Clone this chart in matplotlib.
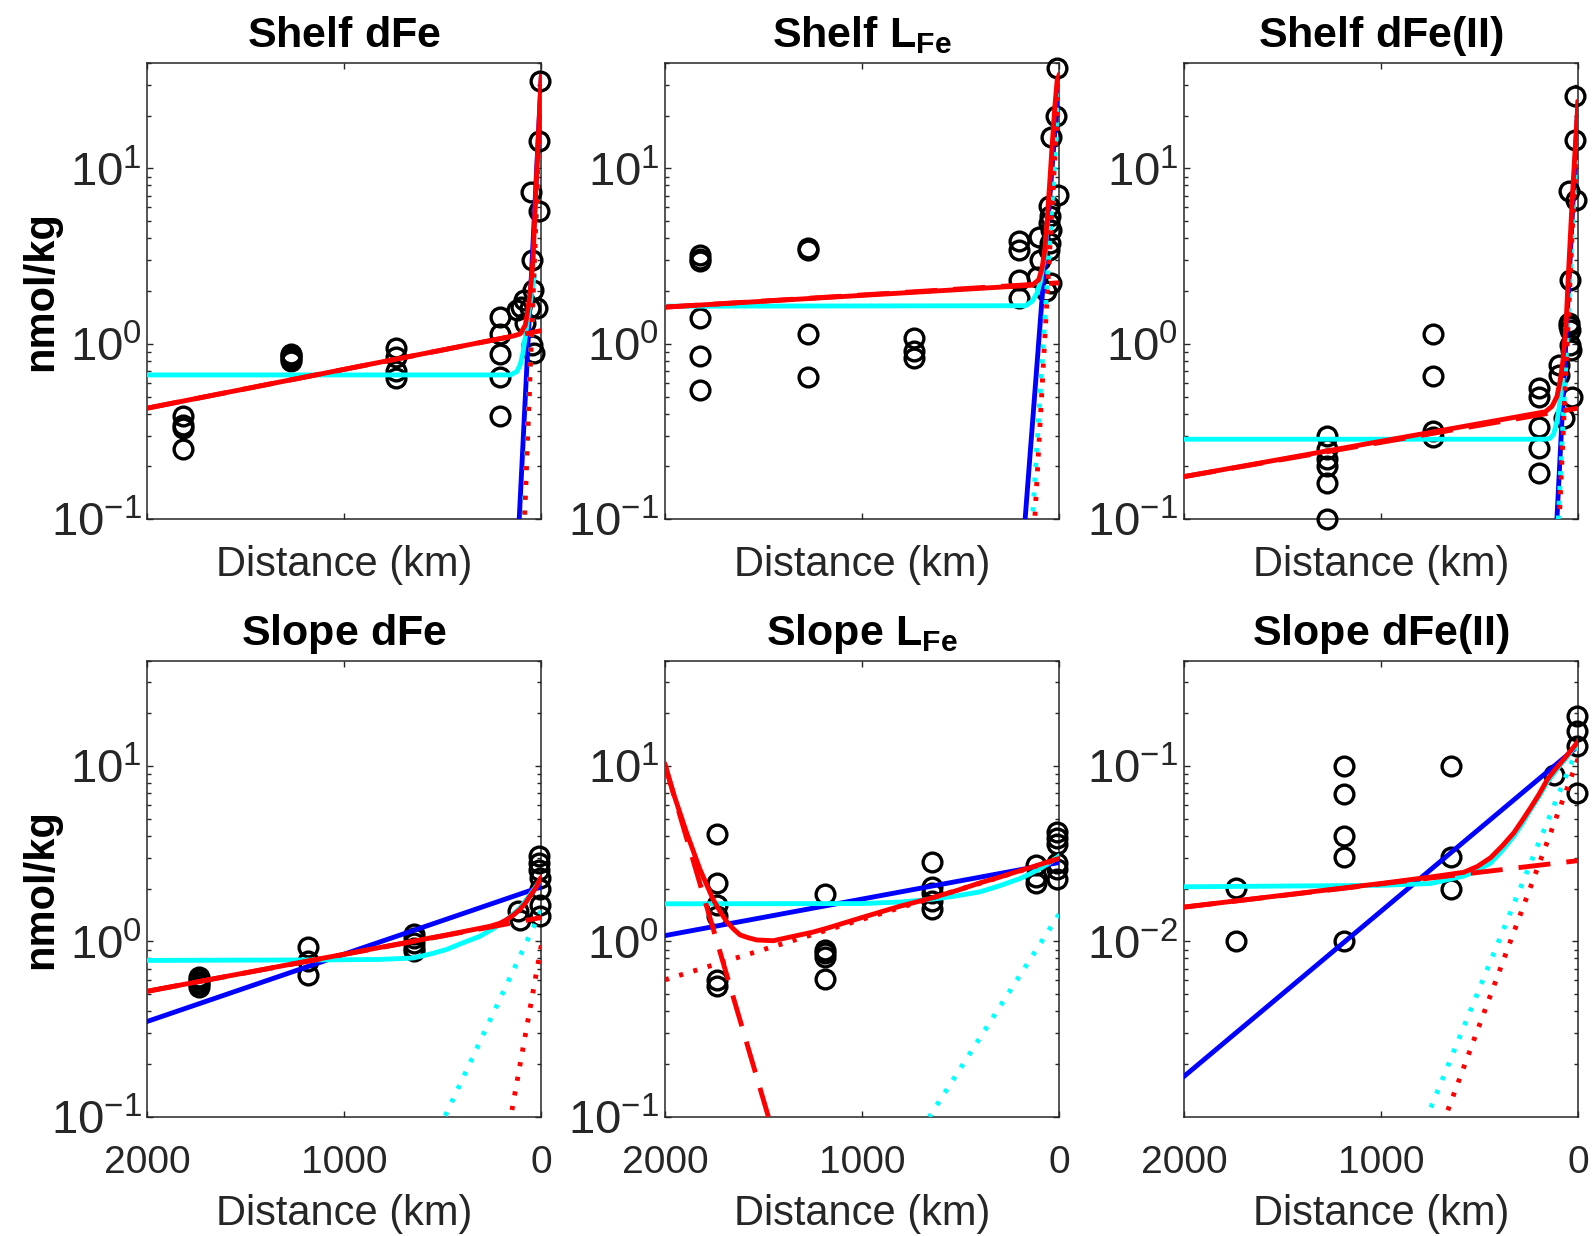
import numpy as np
import matplotlib
matplotlib.use("Agg")
import matplotlib.pyplot as plt
from matplotlib.ticker import NullFormatter, LogFormatterSciNotation, FixedLocator, LogLocator

plt.rcParams['font.family'] = ['Liberation Sans', 'DejaVu Sans']
plt.rcParams['mathtext.fontset'] = 'custom'
plt.rcParams['mathtext.rm'] = 'Liberation Sans'
plt.rcParams['mathtext.bf'] = 'Liberation Sans:bold'
plt.rcParams['mathtext.it'] = 'Liberation Sans:italic'
plt.rcParams['axes.unicode_minus'] = False

# ---------------- Shelf dFe ----------------
shelf_dfe_x = [1819, 1819, 1819, 1819, 1269, 1269, 1269, 1269, 1269, 736, 736, 736, 736,
               208, 208, 208, 208, 208, 124, 105, 90, 81, 56, 51, 47, 47, 42, 39, 22, 14, 10, 9]
shelf_dfe_y = [0.39, 0.345, 0.33, 0.25, 0.88, 0.86, 0.84, 0.82, 0.80, 0.95, 0.84, 0.70, 0.64,
               1.42, 1.14, 0.88, 0.65, 0.39, 1.55, 1.63, 1.78, 1.31, 1.60, 7.35, 3.02, 0.99, 2.03, 0.885, 1.60, 14.3, 5.69, 31.4]
shelf_dfe_blue_x = [0, 112]
shelf_dfe_blue_y = [33, 0.1]
shelf_dfe_cyan_x = [2000, 157, 124, 107, 93, 81, 64, 47, 36]
shelf_dfe_cyan_y = [0.665, 0.665, 0.695, 0.76, 0.885, 1.10, 1.50, 2.03, 2.42]
shelf_dfe_cyandot_x = [0, 88]
shelf_dfe_cyandot_y = [26, 0.1]
shelf_dfe_red_x = [2000, 141, 107, 81, 69.5, 56, 42, 34, 30.5, 17, 1.5, 0]
shelf_dfe_red_y = [0.43, 1.11, 1.14, 1.28, 1.53, 1.99, 3.0, 5.0, 6.3, 13.5, 32.0, 33.5]
shelf_dfe_reddash_x = [2000, 0]
shelf_dfe_reddash_y = [0.43, 1.19]
shelf_dfe_reddot_x = [0, 85]
shelf_dfe_reddot_y = [31.6, 0.1]

# ---------------- Shelf LFe ----------------
shelf_lfe_x = [1820] * 6 + [1273] * 4 + [734] * 3 + \
              [9, 13, 43, 4, 52, 45, 52, 40, 45, 52, 204, 204, 103, 94, 204, 204, 111, 43, 65]
shelf_lfe_y = [3.2, 3.05, 2.95, 1.40, 0.85, 0.545, 3.54, 3.43, 1.14, 0.65, 1.08, 0.91, 0.83,
               37.5, 19.8, 15.1, 7.1, 6.08, 5.33, 4.88, 4.47, 3.75, 3.44, 3.84, 3.44, 4.09, 3.01, 2.32, 1.82, 2.42, 2.22, 1.99]
shelf_lfe_blue_x = [0, 172]
shelf_lfe_blue_y = [33, 0.1]
shelf_lfe_cyan_x = [2000, 170, 136, 111, 94, 82, 72, 60]
shelf_lfe_cyan_y = [1.64, 1.65, 1.75, 1.95, 2.27, 2.76, 3.15, 4.9]
shelf_lfe_cyandot_x = [0, 135]
shelf_lfe_cyandot_y = [27, 0.1]
shelf_lfe_red_x = [2000, 136, 103, 86, 72, 60, 47, 35, 21, 9, 0]
shelf_lfe_red_y = [1.62, 2.16, 2.32, 2.70, 3.44, 5.1, 8.3, 13.4, 22.6, 32.1, 34]
shelf_lfe_reddash_x = [2000, 0]
shelf_lfe_reddash_y = [1.62, 2.23]
shelf_lfe_reddot_x = [0, 123]
shelf_lfe_reddot_y = [31, 0.1]

# ---------------- Shelf dFe(II) ----------------
shelf_dfe2_x = [1273] * 6 + [736] * 4 + \
               [14, 14, 48, 9, 39, 48, 48, 42, 39, 35, 98, 98, 200, 200, 30, 200, 73, 200, 200]
shelf_dfe2_y = [0.30, 0.25, 0.22, 0.20, 0.16, 0.10, 1.14, 0.66, 0.32, 0.296,
                25.8, 14.6, 7.4, 6.6, 2.32, 1.31, 1.27, 1.2, 0.99, 0.92, 0.76, 0.665, 0.56, 0.50, 0.50, 0.337, 0.377, 0.254, 0.183]
shelf_dfe2_blue_x = [0, 107]
shelf_dfe2_blue_y = [23.5, 0.1]
shelf_dfe2_cyan_x = [2000, 166, 141, 124, 107, 90, 78]
shelf_dfe2_cyan_y = [0.286, 0.286, 0.29, 0.305, 0.36, 0.48, 0.62]
shelf_dfe2_cyandot_x = [0, 100]
shelf_dfe2_cyandot_y = [20, 0.1]
shelf_dfe2_red_x = [2000, 166, 132, 107, 90, 76, 61, 50, 27, 0]
shelf_dfe2_red_y = [0.175, 0.41, 0.44, 0.50, 0.62, 0.81, 1.26, 2.32, 7.4, 24]
shelf_dfe2_reddash_x = [2000, 0]
shelf_dfe2_reddash_y = [0.175, 0.43]
shelf_dfe2_reddot_x = [0, 95]
shelf_dfe2_reddot_y = [23, 0.1]

# ---------------- Slope dFe ----------------
slope_dfe_x = [1735] * 5 + [1184] * 3 + [646] * 5 + [118, 109, 11, 11, 11, 8, 8, 8, 8]
slope_dfe_y = [0.63, 0.61, 0.59, 0.57, 0.55, 0.93, 0.77, 0.64, 1.10, 1.04, 0.98, 0.92, 0.88,
               1.49, 1.33, 3.06, 2.8, 2.57, 2.30, 1.98, 1.62, 1.39]
slope_dfe_blue_x = [2000, 0]
slope_dfe_blue_y = [0.35, 2.05]
slope_dfe_cyan_x = [2000, 1115, 819, 650, 560, 481, 400, 312, 240, 176, 140, 109, 85, 58, 35, 15, 0]
slope_dfe_cyan_y = [0.78, 0.785, 0.79, 0.805, 0.85, 0.90, 0.98, 1.07, 1.19, 1.33, 1.44, 1.55, 1.68, 1.84, 2.0, 2.16, 2.28]
slope_dfe_cyandot_x = [0, 490]
slope_dfe_cyandot_y = [1.50, 0.1]
slope_dfe_red_x = [2000, 481, 261, 210, 176, 140, 109, 80, 58, 40, 24, 4, 0]
slope_dfe_red_y = [0.52, 1.09, 1.22, 1.27, 1.33, 1.42, 1.52, 1.66, 1.81, 1.93, 2.06, 2.30, 2.32]
slope_dfe_reddash_x = [2000, 0]
slope_dfe_reddash_y = [0.52, 1.37]
slope_dfe_reddot_x = [0, 155]
slope_dfe_reddot_y = [0.95, 0.1]

# ---------------- Slope LFe ----------------
slope_lfe_x = [1735] * 6 + [1188] * 5 + [646] * 5 + [117] * 3 + [12] * 6
slope_lfe_y = [4.12, 2.16, 1.62, 1.39, 0.605, 0.555, 1.87, 0.90, 0.86, 0.82, 0.61,
               2.85, 2.05, 1.89, 1.70, 1.53, 2.74, 2.34, 2.16, 4.2, 3.87, 3.58, 2.82, 2.6, 2.28]
slope_lfe_blue_x = [2000, 0]
slope_lfe_blue_y = [1.08, 2.82]
slope_lfe_cyan_x = [2000, 1000, 800, 646, 520, 400, 300, 200, 150, 100, 50, 0]
slope_lfe_cyan_y = [1.64, 1.645, 1.68, 1.74, 1.82, 1.92, 2.08, 2.28, 2.42, 2.59, 2.80, 3.07]
slope_lfe_cyandot_x = [0, 658]
slope_lfe_cyandot_y = [1.43, 0.1]
slope_lfe_red_x = [2000, 1958, 1890, 1822, 1755, 1720, 1687, 1653, 1619, 1577, 1534, 1450, 1348, 1250,
                   1178, 1009, 900, 806, 646, 520, 400, 300, 200, 150, 100, 50, 0]
slope_lfe_red_y = [10.2, 7.04, 4.16, 2.57, 1.73, 1.48, 1.30, 1.18, 1.09, 1.05, 1.02, 1.01, 1.07, 1.13,
                   1.19, 1.36, 1.48, 1.59, 1.77, 1.95, 2.16, 2.33, 2.53, 2.63, 2.74, 2.86, 2.97]
slope_lfe_reddash_x = [2000, 1475]
slope_lfe_reddash_y = [10.2, 0.1]
slope_lfe_reddot_x = [2000, 0]
slope_lfe_reddot_y = [0.605, 2.95]

# ---------------- Slope dFe(II) ----------------
slope_dfe2_x = [1735] * 2 + [1187] * 5 + [646] * 3 + [123] + [6] * 4
slope_dfe2_y = [0.0201, 0.010, 0.100, 0.0697, 0.0398, 0.0302, 0.010, 0.100, 0.0302, 0.0199,
                0.0895, 0.193, 0.158, 0.130, 0.0705]
slope_dfe2_blue_x = [2000, 0]
slope_dfe2_blue_y = [0.0017, 0.13]
slope_dfe2_cyan_x = [2000, 1003, 749, 580, 510, 444, 385, 326, 283, 241, 198, 156, 122, 89, 62, 38, 0]
slope_dfe2_cyan_y = [0.0205, 0.0209, 0.0214, 0.0236, 0.0255, 0.028, 0.033, 0.0398, 0.047, 0.0565, 0.067,
                     0.081, 0.091, 0.102, 0.11, 0.12, 0.135]
slope_dfe2_cyandot_x = [0, 766]
slope_dfe2_cyandot_y = [0.129, 0.001]
slope_dfe2_red_x = [2000, 1003, 749, 580, 510, 444, 385, 326, 283, 241, 198, 156, 122, 89, 62, 38, 0]
slope_dfe2_red_y = [0.0157, 0.0214, 0.0233, 0.0248, 0.0268, 0.030, 0.035, 0.0416, 0.049, 0.0578, 0.069,
                    0.0838, 0.094, 0.104, 0.113, 0.122, 0.138]
slope_dfe2_reddash_x = [2000, 0]
slope_dfe2_reddash_y = [0.0157, 0.0289]
slope_dfe2_reddot_x = [0, 673]
slope_dfe2_reddot_y = [0.11, 0.001]

titles = [r'$\mathbf{Shelf\ dFe}$', r'$\mathbf{Shelf\ L}_{\mathbf{Fe}}$', r'$\mathbf{Shelf\ dFe(II)}$',
          r'$\mathbf{Slope\ dFe}$', r'$\mathbf{Slope\ L}_{\mathbf{Fe}}$', r'$\mathbf{Slope\ dFe(II)}$']
x_ticks = [2000, 1000, 0]
x_ticklabels = ['2000', '1000', '0']

panels = [
    (shelf_dfe_x, shelf_dfe_y, (shelf_dfe_blue_x, shelf_dfe_blue_y), (shelf_dfe_cyan_x, shelf_dfe_cyan_y),
     (shelf_dfe_cyandot_x, shelf_dfe_cyandot_y), (shelf_dfe_red_x, shelf_dfe_red_y),
     (shelf_dfe_reddash_x, shelf_dfe_reddash_y), (shelf_dfe_reddot_x, shelf_dfe_reddot_y)),
    (shelf_lfe_x, shelf_lfe_y, (shelf_lfe_blue_x, shelf_lfe_blue_y), (shelf_lfe_cyan_x, shelf_lfe_cyan_y),
     (shelf_lfe_cyandot_x, shelf_lfe_cyandot_y), (shelf_lfe_red_x, shelf_lfe_red_y),
     (shelf_lfe_reddash_x, shelf_lfe_reddash_y), (shelf_lfe_reddot_x, shelf_lfe_reddot_y)),
    (shelf_dfe2_x, shelf_dfe2_y, (shelf_dfe2_blue_x, shelf_dfe2_blue_y), (shelf_dfe2_cyan_x, shelf_dfe2_cyan_y),
     (shelf_dfe2_cyandot_x, shelf_dfe2_cyandot_y), (shelf_dfe2_red_x, shelf_dfe2_red_y),
     (shelf_dfe2_reddash_x, shelf_dfe2_reddash_y), (shelf_dfe2_reddot_x, shelf_dfe2_reddot_y)),
    (slope_dfe_x, slope_dfe_y, (slope_dfe_blue_x, slope_dfe_blue_y), (slope_dfe_cyan_x, slope_dfe_cyan_y),
     (slope_dfe_cyandot_x, slope_dfe_cyandot_y), (slope_dfe_red_x, slope_dfe_red_y),
     (slope_dfe_reddash_x, slope_dfe_reddash_y), (slope_dfe_reddot_x, slope_dfe_reddot_y)),
    (slope_lfe_x, slope_lfe_y, (slope_lfe_blue_x, slope_lfe_blue_y), (slope_lfe_cyan_x, slope_lfe_cyan_y),
     (slope_lfe_cyandot_x, slope_lfe_cyandot_y), (slope_lfe_red_x, slope_lfe_red_y),
     (slope_lfe_reddash_x, slope_lfe_reddash_y), (slope_lfe_reddot_x, slope_lfe_reddot_y)),
    (slope_dfe2_x, slope_dfe2_y, (slope_dfe2_blue_x, slope_dfe2_blue_y), (slope_dfe2_cyan_x, slope_dfe2_cyan_y),
     (slope_dfe2_cyandot_x, slope_dfe2_cyandot_y), (slope_dfe2_red_x, slope_dfe2_red_y),
     (slope_dfe2_reddash_x, slope_dfe2_reddash_y), (slope_dfe2_reddot_x, slope_dfe2_reddot_y)),
]

MS, MEW, LW = 13.5, 2.4, 3.5
DOT = (0, (0.85, 2.2))
DASH = (0, (6.6, 3.3))
GRAY = (0.15, 0.15, 0.15)

fig = plt.figure(figsize=(15.92, 12.36), dpi=100)
lefts = [0.0925, 0.4177, 0.7437]
bottoms = [0.5799, 0.0964]
W, H = 0.2475, 0.3692

for i, (px, py, blue, cyan, cyandot, red, reddash, reddot) in enumerate(panels):
    row, col = divmod(i, 3)
    ax = fig.add_axes([lefts[col], bottoms[row], W, H])
    ax.set_yscale('log')
    ax.plot(px, py, ls='none', marker='o', mfc='none', mec='k', ms=MS, mew=MEW, clip_on=False, zorder=3)
    ax.plot(*blue, color=(0, 0, 1), lw=LW, zorder=4)
    ax.plot(*cyan, color=(0, 1, 1), lw=LW, zorder=5, solid_joinstyle='round')
    ax.plot(*cyandot, color=(0, 1, 1), lw=LW, ls=DOT, zorder=6)
    ax.plot(*reddash, color=(1, 0, 0), lw=LW, ls=DASH, zorder=7)
    ax.plot(*reddot, color=(1, 0, 0), lw=LW, ls=DOT, zorder=8)
    ax.plot(*red, color=(1, 0, 0), lw=LW, zorder=9, solid_joinstyle='round')

    ax.set_xlim(2000, 0)
    if i == 5:
        ax.set_ylim(0.001, 0.4)
        yt = [0.01, 0.1]
    else:
        ax.set_ylim(0.1, 40)
        yt = [0.1, 1, 10]
    ax.set_xticks(x_ticks)
    if row == 0:
        ax.set_xticklabels(['', '', ''])
    else:
        ax.set_xticklabels(x_ticklabels)
    ax.yaxis.set_major_locator(FixedLocator(yt))
    ax.yaxis.set_major_formatter(LogFormatterSciNotation())
    ax.yaxis.set_minor_locator(LogLocator(base=10, subs=np.arange(2, 10) * 1.0, numticks=30))
    ax.yaxis.set_minor_formatter(NullFormatter())

    ax.tick_params(axis='both', which='both', direction='in', top=True, right=True,
                   color=GRAY, width=1.0)
    ax.tick_params(which='major', length=4.5)
    ax.tick_params(which='minor', length=3)
    ax.tick_params(axis='x', labelsize=28, pad=20, labelcolor=GRAY)
    ax.tick_params(axis='y', labelsize=34, pad=4, labelcolor=GRAY)
    for s in ax.spines.values():
        s.set_color(GRAY)
        s.set_linewidth(1.1)

    ax.set_title(titles[i], fontsize=31, color='k', pad=11.5)
    ax.set_xlabel('Distance (km)', fontsize=30, color=GRAY)
    ax.xaxis.set_label_coords(0.5, -0.056 if row == 0 else -0.170)
    if col == 0:
        ax.set_ylabel('nmol/kg', fontsize=30, fontweight='bold', color='k')
        ax.yaxis.set_label_coords(-0.219, 0.5)

fig.savefig('out.png', dpi=100)
